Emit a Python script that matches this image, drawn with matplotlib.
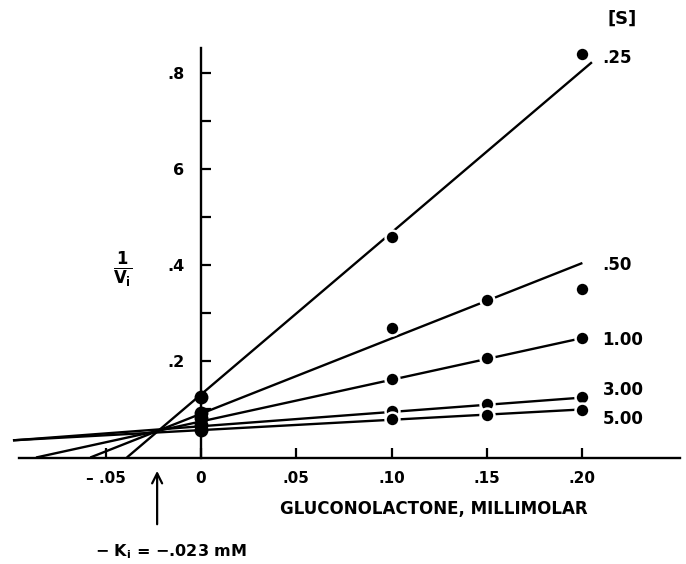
import numpy as np
import matplotlib
matplotlib.use('Agg')
import matplotlib.pyplot as plt

plt.rcParams['font.family'] = ['DejaVu Sans']
plt.rcParams['font.weight'] = 'bold'
plt.rcParams['mathtext.fontset'] = 'dejavusans'
plt.rcParams['mathtext.default'] = 'bf'

# 数据：葡萄糖酸内酯浓度 (mM) 与 1/Vi
conc = [0.0, 0.10, 0.15, 0.20]
s_labels = ['.25', '.50', '1.00', '3.00', '5.00']
inv_v = {
    '.25': [0.126, 0.458, None, 0.839],
    '.50': [0.093, 0.270, 0.327, 0.350],
    '1.00': [0.082, 0.163, 0.206, 0.248],
    '3.00': [0.068, 0.097, 0.111, 0.125],
    '5.00': [0.058, 0.081, 0.088, 0.099],
}
# 拟合直线：截距、斜率、终点
fit_intercept = [0.131, 0.091, 0.075, 0.065, 0.057]
fit_slope = [3.37, 1.567, 0.867, 0.298, 0.215]
fit_xend = [0.205, 0.20, 0.20, 0.20, 0.20]
label_y = [0.83, 0.40, 0.244, 0.140, 0.080]

xticks = [-0.05, 0, 0.05, 0.10, 0.15, 0.20]
xticklabels = ['\u2013 .05', '0', '.05', '.10', '.15', '.20']
yticks = [0.1, 0.2, 0.3, 0.4, 0.5, 0.6, 0.7, 0.8]
yticklabels = ['', '.2', '', '.4', '', '6', '', '.8']
ki = -0.023

fig = plt.figure(figsize=(6.86, 5.64), dpi=100)
ax = fig.add_axes([0.015, 0.1888, 0.9813, 0.7846])
ax.set_xlim(-0.1, 0.253)
ax.set_ylim(0, 0.92)

for sp in ['top', 'right']:
    ax.spines[sp].set_visible(False)
ax.spines['left'].set_position(('data', 0))
ax.spines['left'].set_bounds(0, 0.851)
ax.spines['bottom'].set_bounds(-0.0955, 0.2513)
for sp in ['left', 'bottom']:
    ax.spines[sp].set_linewidth(1.7)
    ax.spines[sp].set_zorder(5)

ax.set_xticks(xticks)
ax.set_xticklabels(xticklabels, fontsize=11, fontweight='bold')
ax.set_yticks(yticks)
ax.set_yticklabels(yticklabels, fontsize=11.5, fontweight='bold')
ax.tick_params(axis='x', direction='in', length=7, width=1.6, pad=10)
ax.tick_params(axis='y', direction='in', length=7, width=1.6, pad=12)

# 直线
left = -0.0986
for b, m, xe in zip(fit_intercept, fit_slope, fit_xend):
    x0 = max(-b / m, left)
    xs = np.array([x0, xe])
    ax.plot(xs, b + m * xs, color='black', lw=1.7, zorder=2, solid_capstyle='butt')

# 数据点
for i, s in enumerate(s_labels):
    for x, y in zip(conc, inv_v[s]):
        if y is None:
            continue
        ax.scatter([x], [y], s=100, color='black', zorder=4,
                   edgecolors='white', linewidths=1.8 if x > 0 else 0)
    ax.text(0.2105, label_y[i], s, fontsize=12, fontweight='bold',
            va='center', ha='left')

ax.text(0.2207, 0.912, '[S]', fontsize=13, fontweight='bold', ha='center', va='center')
ax.text(-0.041, 0.39, r'$\frac{\mathrm{1}}{\mathrm{V_i}}$', fontsize=17,
        ha='center', va='center')

ax.text(0.1222, -0.107, 'GLUCONOLACTONE, MILLIMOLAR', fontsize=12,
        fontweight='bold', ha='center', va='center', clip_on=False)
ax.annotate('', xy=(ki, -0.022), xytext=(ki, -0.1445), annotation_clip=False,
            arrowprops=dict(arrowstyle='->', lw=1.6, color='black',
                            mutation_scale=18))
ax.text(-0.0157, -0.195, r'$-\ \mathrm{\mathbf{K_i}}$ = $-$.023 mM', fontsize=11.5,
        fontweight='bold', ha='center', va='center', clip_on=False)

fig.savefig('out.png', dpi=100)
